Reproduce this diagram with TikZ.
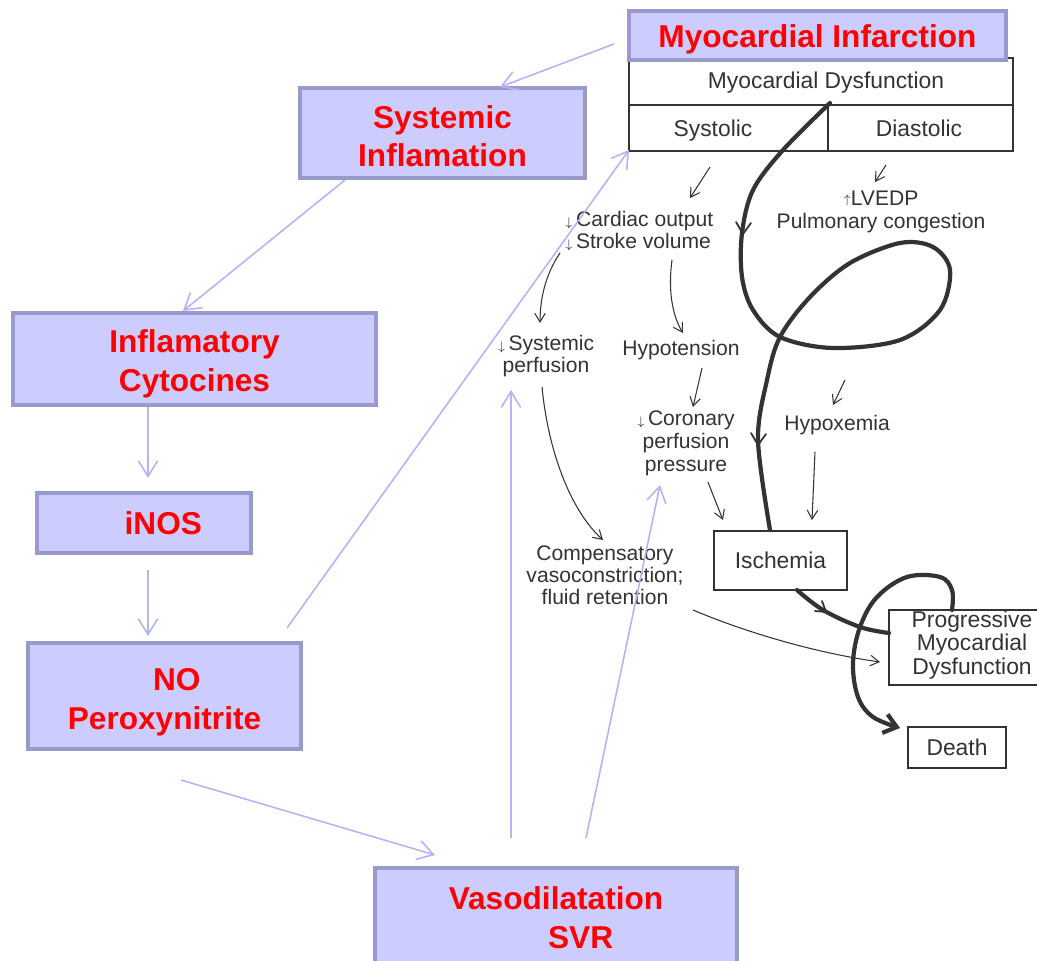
\documentclass[tikz,border=0pt]{standalone}
\usepackage{fontspec}
\setmainfont{Liberation Sans}
\usetikzlibrary{arrows.meta}
\definecolor{boxfill}{HTML}{CCCCFF}
\definecolor{boxdraw}{HTML}{9999CC}
\definecolor{bluearrow}{HTML}{B4B4F2}
\definecolor{ink}{HTML}{333333}
\definecolor{redtxt}{HTML}{FF0000}
\newcommand\bstrut[1]{\rule{0pt}{#1}}
\newcommand\dnarr{{\scriptsize$\downarrow$}}
\begin{document}
\begin{tikzpicture}[x=0.02cm,y=-0.02cm,
  bbox/.style={draw=boxdraw, line width=2.6pt, fill=boxfill, text=redtxt,
    font=\fontsize{18}{22}\selectfont\bfseries, align=center, inner sep=0pt, outer sep=0pt},
  barrow/.style={draw=bluearrow, line width=0.9pt, -{Straight Barb[length=9pt,width=11pt]}},
  inktext/.style={text=ink, font=\fontsize{12}{13}\selectfont, inner sep=0pt, align=center},
  bigtext/.style={text=ink, font=\fontsize{13}{13.6}\selectfont, inner sep=0pt, align=center},
  karrow/.style={draw=ink, line width=0.6pt, -{Straight Barb[length=5pt,width=6pt]}},
  thickpath/.style={draw=ink, line width=2.4pt, line cap=round, line join=round},
  kbox/.style={draw=ink, line width=0.9pt, fill=white, inner sep=0pt, outer sep=0pt},
  midhead/.style={draw=ink, line width=1pt, line cap=round, line join=round}
]
\useasboundingbox (0,0) rectangle (1037,960);

% ---------- scanned black diagram ----------
\node[kbox, minimum width=7.68cm, minimum height=1.86cm] (table) at (821,104.5) {};
\draw[draw=ink, line width=0.9pt] (629,105) -- (1013,105);
\draw[draw=ink, line width=0.9pt] (828,105) -- (828,151);
\node[bigtext, anchor=base] (md) at (826,88) {Myocardial Dysfunction};
\node[bigtext, anchor=base] (sys) at (713,136) {Systolic};
\node[bigtext, anchor=base] (dia) at (919,136) {Diastolic};

\node[inktext] (lvedp) at (881,212) {\raisebox{1pt}{\scriptsize$\uparrow$}LVEDP\\Pulmonary congestion};
\node[inktext, align=left, anchor=west] (co) at (565,231) {\dnarr\,Cardiac output\\\dnarr\,Stroke volume};
\node[inktext] (sp) at (546,356) {\dnarr\,Systemic\\perfusion};
\node[inktext, anchor=base] (hyp) at (681,355) {Hypotension};
\node[inktext] (cpp) at (686,443) {\dnarr\,Coronary\\perfusion\\pressure};
\node[inktext, anchor=base] (hypox) at (837,430) {Hypoxemia};
\node[inktext, font=\fontsize{12}{12.5}\selectfont] (comp) at (605,575) {Compensatory\\vasoconstriction;\\fluid retention};

\node[kbox, bigtext, minimum width=2.66cm, minimum height=1.18cm] (isch) at (780.5,560.5) {Ischemia};
\node[kbox, minimum width=3.1cm, minimum height=1.5cm] (prog) at (966.5,647.5) {};
\node[bigtext] (progtxt) at (972,645) {Progressive\\Myocardial\\Dysfunction};
\node[kbox, bigtext, minimum width=1.96cm, minimum height=0.82cm] (death) at (957,747.5) {Death};

% thin arrows
\draw[karrow] (710,167) -- (690,198);
\draw[karrow] (886,165) -- (875,182);
\draw[karrow] (560,253) .. controls (545,275) and (540,300) .. (540,323);
\draw[karrow] (672,260) .. controls (668,290) and (672,315) .. (683,333);
\draw[karrow] (702,368) -- (693,407);
\draw[karrow] (845,380) -- (833,405);
\draw[karrow] (708,482) .. controls (713,495) .. (723,520);
\draw[karrow] (815,452) -- (812,520);
\draw[karrow] (542,387) .. controls (548,450) and (570,510) .. (603,540);
\draw[karrow] (693,610) .. controls (740,630) and (810,652) .. (880,662);

% thick spiral
\draw[thickpath] plot[smooth, tension=0.55] coordinates {(830,103) (783,150) (753,190) (742,233) (742,277) (753,310) (780,337) (833,348) (900,340) (940,310) (950,270) (933,247) (900,243) (850,263) (810,297) (780,337) (767,380) (758,440) (770,530)};
\draw[midhead] (736,222) -- (743,234) -- (751,223);
\draw[midhead] (751,433) -- (758,445) -- (766,434);
\draw[thickpath] plot[smooth, tension=0.6] coordinates {(797,590) (823,610) (860,627) (889,633)};
\draw[midhead] (815,611) -- (826,612) -- (822,601);
\draw[thickpath, -{Straight Barb[length=7pt,width=11pt]}] plot[smooth, tension=0.6] coordinates {(952,610) (952,590) (940,577) (907,577) (877,597) (860,627) (853,663) (858,697) (873,717) (900,728)};

% ---------- blue boxes ----------
\node[bbox, minimum width=7.54cm, minimum height=0.98cm] (mi) at (817.5,35.5) {\bstrut{17.6pt}Myocardial Infarction};
\node[bbox, minimum width=5.7cm, minimum height=1.8cm] (si) at (442.5,133) {\bstrut{16.5pt}Systemic\\Inflamation};
\node[bbox, minimum width=7.26cm, minimum height=1.84cm] (ic) at (194.5,359) {\bstrut{18.8pt}Inflamatory\\Cytocines};
\node[bbox, minimum width=4.28cm, minimum height=1.2cm] (inos) at (144,523) {\hspace*{22pt}iNOS};
\node[bbox, minimum width=5.46cm, minimum height=2.12cm] (no) at (164.5,696) {\bstrut{19.4pt}\hspace*{14pt}NO\\Peroxynitrite};
\node[bbox, minimum width=7.24cm, minimum height=2.0cm] (vs) at (556,918) {Vasodilatation\\\hspace*{28pt}SVR};

% ---------- blue connectors ----------
\coordinate (b1s) at (614,44);
\coordinate (b1e) at (500,87);
\coordinate (b2s) at (345,180);
\coordinate (b2e) at (183,311);
\coordinate (b3s) at (148,407);
\coordinate (b3e) at (148,478);
\coordinate (b4s) at (148,570);
\coordinate (b4e) at (148,636);
\coordinate (b5s) at (287,628);
\coordinate (b5e) at (629,150);
\coordinate (b6s) at (181,780);
\coordinate (b6e) at (435,855);
\coordinate (b7s) at (511,838);
\coordinate (b7e) at (511,390);
\coordinate (b8s) at (586,838);
\coordinate (b8e) at (660,485);
\draw[barrow] (b1s) -- (b1e);
\draw[barrow] (b2s) -- (b2e);
\draw[barrow] (b3s) -- (b3e);
\draw[barrow] (b4s) -- (b4e);
\draw[barrow] (b5s) -- (b5e);
\draw[barrow] (b6s) -- (b6e);
\draw[barrow] (b7s) -- (b7e);
\draw[barrow] (b8s) -- (b8e);
\end{tikzpicture}
\end{document}
